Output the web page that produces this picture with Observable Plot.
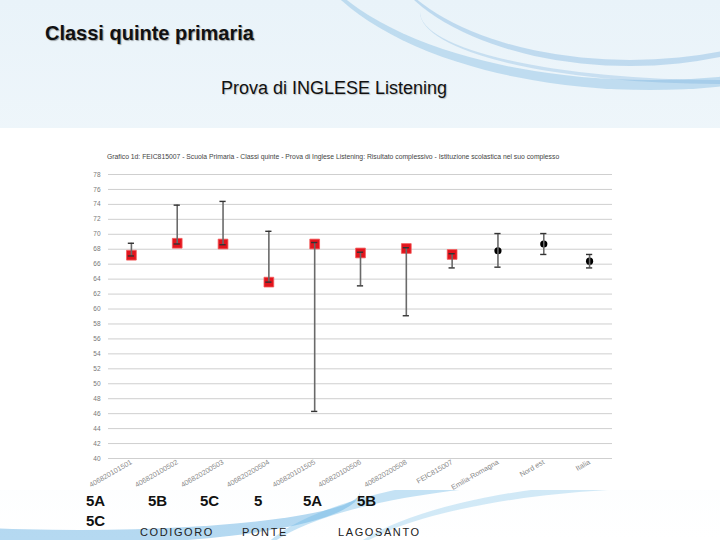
<!DOCTYPE html>
<html>
<head>
<meta charset="utf-8">
<script src="https://cdn.jsdelivr.net/npm/d3@7"></script>
<script src="https://cdn.jsdelivr.net/npm/@observablehq/plot@0.6"></script>
<style>
  html, body { margin: 0; padding: 0; }
  body { width: 720px; height: 540px; overflow: hidden; font-family: "Liberation Sans", Arial, sans-serif; }
  #page { position: relative; width: 720px; height: 540px; overflow: hidden;
          background: linear-gradient(to bottom, #e9f3f9 0%, #f6fafd 60%, #ffffff 100%); }
  .swoosh { position: absolute; border-radius: 50%; border-style: solid; border-color: rgba(110,175,220,0.35); border-width: 0; }
  #white { position: absolute; left: 0; top: 128px; width: 720px; height: 362px; background: #fff; }
  #title { position: absolute; left: 45px; top: 22px; font-size: 20px; font-weight: bold; color: #111; text-shadow: 1px 1px 1px rgba(0,0,0,0.35); white-space: nowrap; }
  #subtitle { position: absolute; left: 0; width: 668px; text-align: center; top: 78px; font-size: 18px; color: #111; text-shadow: 1px 1px 1px rgba(0,0,0,0.2); white-space: nowrap; }
  #charttitle { position: absolute; left: 107px; top: 153px; font-size: 6.8px; color: #444; white-space: nowrap; }
  #plot { position: absolute; left: 0; top: 128px; }
  .cls { position: absolute; font-size: 15px; font-weight: bold; color: #111; }
  .place { position: absolute; top: 526px; font-size: 11px; line-height: 13px; letter-spacing: 1.6px; color: #222; }
</style>
</head>
<body>
<div id="page">
  <div class="swoosh" style="left:300px; top:-250px; width:700px; height:330px; border-bottom-width:10px;"></div>
  <div class="swoosh" style="left:380px; top:-200px; width:500px; height:260px; border-bottom-width:6px; border-color: rgba(90,160,215,0.3);"></div>
  <div class="swoosh" style="left:420px; top:-60px; width:600px; height:140px; border-bottom-width:4px; border-color: rgba(90,160,215,0.25);"></div>
  <div class="swoosh" style="left:-200px; top:440px; width:560px; height:90px; border-bottom-width:14px; border-color: rgba(90,170,225,0.45);"></div>
  <div class="swoosh" style="left:250px; top:470px; width:700px; height:200px; border-top-width:12px; border-color: rgba(110,185,230,0.4);"></div>
  <div class="swoosh" style="left:330px; top:480px; width:700px; height:200px; border-top-width:8px; border-color: rgba(110,185,230,0.3);"></div>
  <div id="white"></div>
  <div id="title">Classi quinte primaria</div>
  <div id="subtitle">Prova di INGLESE Listening</div>
  <div id="charttitle">Grafico 1d: FEIC815007 - Scuola Primaria - Classi quinte - Prova di Inglese Listening: Risultato complessivo - Istituzione scolastica nel suo complesso</div>
  <div id="plot"></div>
  <div class="cls" style="left:86px; top:492px;">5A</div>
  <div class="cls" style="left:86px; top:512px;">5C</div>
  <div class="cls" style="left:148px; top:492px;">5B</div>
  <div class="cls" style="left:200px; top:492px;">5C</div>
  <div class="cls" style="left:254px; top:492px;">5</div>
  <div class="cls" style="left:303px; top:492px;">5A</div>
  <div class="cls" style="left:357px; top:492px;">5B</div>
  <div class="place" style="left:140px;">CODIGORO</div>
  <div class="place" style="left:242px;">PONTE</div>
  <div class="place" style="left:338px;">LAGOSANTO</div>
</div>
<script>
const categories = ["406820101501", "406820100502", "406820200503", "406820200504", "406820101505", "406820100506", "406820200508", "FEIC815007", "Emilia-Romagna", "Nord est", "Italia"];
const means = [67.2, 68.8, 68.7, 63.6, 68.7, 67.5, 68.1, 67.3, 67.8, 68.7, 66.4];
const lows  = [67.1, 68.7, 68.6, 63.6, 46.3, 63.1, 59.1, 65.5, 65.6, 67.3, 65.5];
const highs = [68.8, 73.9, 74.4, 70.4, 68.9, 67.6, 68.2, 67.4, 70.1, 70.1, 67.3];
const kinds = ["classe", "classe", "classe", "classe", "classe", "classe", "classe", "classe", "riferimento", "riferimento", "riferimento"];
const yTicks = [40, 42, 44, 46, 48, 50, 52, 54, 56, 58, 60, 62, 64, 66, 68, 70, 72, 74, 76, 78];

const data = categories.map((c, i) => ({cat: c, mean: means[i], low: lows[i], high: highs[i], kind: kinds[i]}));
const classes = data.filter(d => d.kind === "classe");
const refs = data.filter(d => d.kind === "riferimento");

const chart = Plot.plot({
  width: 720,
  height: 372,
  marginLeft: 108,
  marginRight: 108,
  marginTop: 46,
  marginBottom: 42,
  style: {fontFamily: "Liberation Sans, Arial, sans-serif", background: "transparent", overflow: "visible"},
  x: {domain: categories, padding: 0, round: false},
  y: {domain: [40, 78]},
  marks: [
    Plot.ruleY(yTicks, {stroke: "#cfcfcf", strokeWidth: 1}),
    Plot.axisY({ticks: yTicks, tickSize: 0, tickPadding: 8, fontSize: 6.5, fill: "#777", label: null}),
    Plot.axisX({tickSize: 0, tickPadding: 3, tickRotate: -30, textAnchor: "end", fontSize: 7.2, fill: "#888", label: null}),
    Plot.dot(classes, {x: "cat", y: "mean", symbol: "square", r: 5.5, fill: "#e3141c", stroke: "#f25a5a", strokeWidth: 0.8}),
    Plot.dot(refs, {x: "cat", y: "mean", symbol: "circle", r: 3.6, fill: "#000"}),
    Plot.ruleX(data, {x: "cat", y1: "low", y2: "high", stroke: "#6a6a6a", strokeWidth: 1.6}),
    Plot.tickY(data, {x: "cat", y: "high", stroke: "#333", strokeWidth: 1.4, insetLeft: 19.8, insetRight: 19.8}),
    Plot.tickY(data, {x: "cat", y: "low", stroke: "#333", strokeWidth: 1.4, insetLeft: 19.8, insetRight: 19.8})
  ]
});
document.getElementById("plot").appendChild(chart);
</script>
</body>
</html>
